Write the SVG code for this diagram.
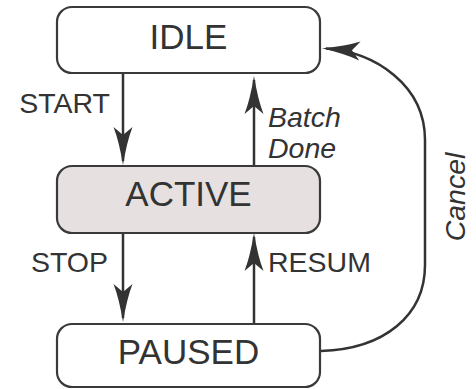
<svg xmlns="http://www.w3.org/2000/svg" width="476" height="389" viewBox="0 0 476 389">
<style>
.box{fill:#ffffff;stroke:#3a3a3a;stroke-width:2.2}
.active{fill:#e6e0e0}
.big{font-family:"Liberation Sans",Arial,sans-serif;font-size:35px;fill:#333;text-anchor:middle}
.lbl{font-family:"Liberation Sans",Arial,sans-serif;font-size:28.5px;fill:#333}
.it{font-style:italic}
.edge{fill:none;stroke:#333;stroke-width:2.5}
</style>
<defs>
<marker id="arr" markerUnits="userSpaceOnUse" viewBox="-40 -12 46 24" markerWidth="46" markerHeight="24" refX="-4" refY="0" orient="auto">
<path d="M0,0 Q-24,-4 -38,-9.5 L-30,0 L-38,9.5 Q-24,4 0,0Z" fill="#333"/>
</marker>
</defs>
<g id="connectors">
<path class="edge" d="M123,74 L123,161" marker-end="url(#arr)"/>
<path class="edge" d="M254,166 L254,80" marker-end="url(#arr)"/>
<path class="edge" d="M123,233 L123,318" marker-end="url(#arr)"/>
<path class="edge" d="M254,324 L254,237" marker-end="url(#arr)"/>
<path class="edge" d="M321,351 C385,349 425,315 425,265 L425,140 C425,85 375,52 326,48.5" marker-end="url(#arr)"/>
<text class="lbl" x="110" y="113" text-anchor="end">START</text>
<text class="lbl it" x="268" y="127">Batch</text>
<text class="lbl it" x="268" y="158">Done</text>
<text class="lbl" x="108" y="272" text-anchor="end">STOP</text>
<text class="lbl" x="268" y="272">RESUM</text>
<text class="lbl it" transform="translate(465,197) rotate(-90)" text-anchor="middle">Cancel</text>
</g>
<g id="idle">
<rect class="box" x="57" y="7" width="263" height="66" rx="15"/>
<text class="big" x="188.5" y="49">IDLE</text>
</g>
<g id="active">
<rect class="box active" x="57" y="166" width="263" height="67" rx="15"/>
<text class="big" x="188.5" y="206">ACTIVE</text>
</g>
<g id="paused">
<rect class="box" x="57" y="324" width="263" height="63" rx="15"/>
<text class="big" x="188.5" y="364">PAUSED</text>
</g>
</svg>
